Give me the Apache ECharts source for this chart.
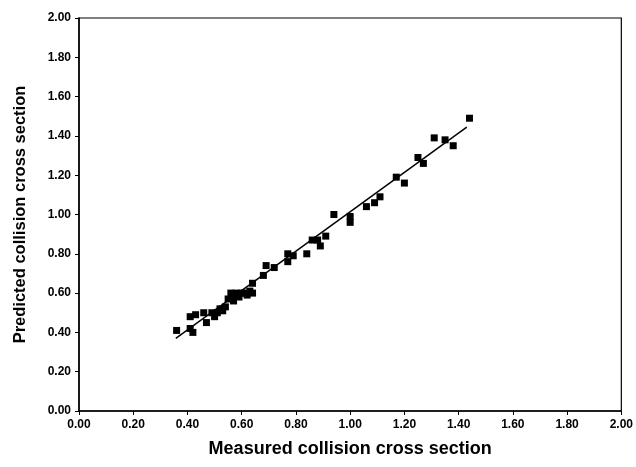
<!DOCTYPE html>
<html><head><meta charset="utf-8">
<script src="https://cdn.jsdelivr.net/npm/echarts@6/dist/echarts.min.js"></script>
<style>html,body{margin:0;padding:0;background:#fff}#c{width:636px;height:467px}</style>
</head><body><div id="c"></div>
<script>
const measured = [0.36,0.41,0.43,0.41,0.42,0.46,0.47,0.49,0.50,0.51,0.52,0.54,0.55,0.56,0.57,0.58,0.60,0.61,0.62,0.63,0.64,0.64,0.68,0.69,0.72,0.77,0.77,0.79,0.84,0.86,0.88,0.89,0.91,0.94,1.00,1.00,1.06,1.09,1.11,1.17,1.20,1.25,1.27,1.31,1.35,1.38,1.44,0.53,0.59,0.57];
const predicted = [0.41,0.48,0.49,0.42,0.40,0.50,0.45,0.50,0.48,0.50,0.52,0.53,0.57,0.60,0.56,0.60,0.60,0.60,0.59,0.61,0.60,0.65,0.69,0.74,0.73,0.80,0.76,0.79,0.80,0.87,0.87,0.84,0.89,1.00,0.99,0.96,1.04,1.06,1.09,1.19,1.16,1.29,1.26,1.39,1.38,1.35,1.49,0.51,0.58,0.59];
const fitX = [0.357, 1.43];
const fitY = [0.37, 1.445];
const xTitle = 'Measured collision cross section';
const yTitle = 'Predicted collision cross section';

const pts = measured.map((v,i)=>[v,predicted[i]]);
const fit = fitX.map((v,i)=>[v,fitY[i]]);
const lbl = {fontFamily:'Liberation Sans',fontWeight:'bold',fontSize:12,color:'#000',formatter:v=>v.toFixed(2)};
const chart = echarts.init(document.getElementById('c'));
chart.setOption({
  animation:false,
  grid:{left:79,top:18,right:14,bottom:56,show:true,borderColor:'#000',borderWidth:1.2},
  xAxis:{type:'value',min:0,max:2,interval:0.2,
    name:xTitle,nameLocation:'middle',nameGap:29,
    nameTextStyle:{fontFamily:'Liberation Sans',fontWeight:'bold',fontSize:18,color:'#000'},
    axisLine:{lineStyle:{color:'#000',width:1.5}},axisTick:{show:true,length:4,lineStyle:{color:'#000'}},
    axisLabel:Object.assign({margin:8},lbl),splitLine:{show:false}},
  yAxis:{type:'value',min:0,max:2,interval:0.2,
    name:yTitle,nameLocation:'middle',nameGap:50,
    nameTextStyle:{fontFamily:'Liberation Sans',fontWeight:'bold',fontSize:16.5,color:'#000'},
    axisLine:{show:true,lineStyle:{color:'#000',width:1.5}},axisTick:{show:true,length:4,lineStyle:{color:'#000'}},
    axisLabel:Object.assign({margin:8},lbl),splitLine:{show:false}},
  series:[
    {type:'scatter',data:pts,symbol:'rect',symbolSize:7,itemStyle:{color:'#000',opacity:1}},
    {type:'line',data:fit,symbol:'none',lineStyle:{color:'#000',width:1.5}}
  ]
});
</script></body></html>
